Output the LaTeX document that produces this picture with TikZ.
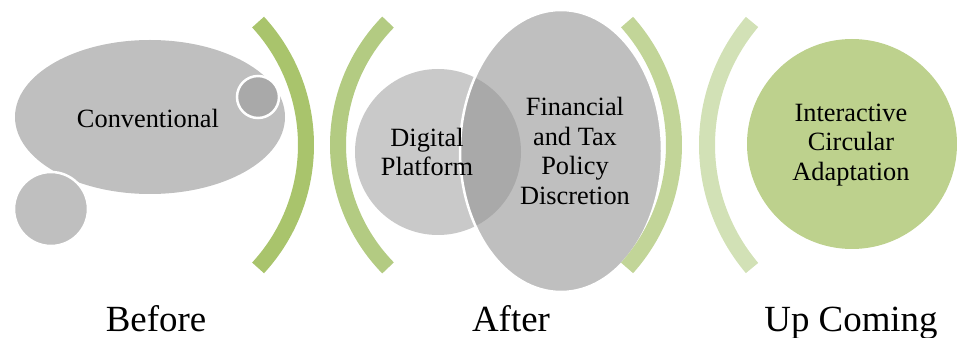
\documentclass[tikz,border=0pt]{standalone}
\usepackage{fontspec}
\setmainfont{Liberation Serif}
\usepackage{tikz}
\newcommand{\pixsize}{0.02cm}
\newcommand{\bracketwidth}{0.32cm}
\definecolor{arcone}{HTML}{A9C46C}
\definecolor{arctwo}{HTML}{B3CB82}
\definecolor{arcthree}{HTML}{C2D598}
\definecolor{arcfour}{HTML}{D2E1B6}
\definecolor{leafgreen}{HTML}{BDD18D}
\definecolor{shapegray}{HTML}{BFBFBF}
\definecolor{lightgray}{HTML}{C9C9C9}
\definecolor{darkgray}{HTML}{A9A9A9}
\newcommand{\makebracket}[5]{
	\draw[#5, line width=\bracketwidth] (#1) ++(#2:#4) arc (#2:#3:#4);
}

\begin{document}
\begin{tikzpicture}[x=\pixsize,y=\pixsize]
	\tikzset{
		inner/.style={align=center, font=\fontsize{15}{17}\selectfont, inner sep=0pt},
		stage/.style={font=\fontsize{21}{24}\selectfont, inner sep=0pt, anchor=base},
		rim/.style={draw=white, line width=0.05cm}
	}
	\useasboundingbox (0,0) rectangle (957,338);
	\coordinate (convmid) at (150,221);
	\coordinate (topdotmid) at (258,241);
	\coordinate (lowdotmid) at (51,129);
	\coordinate (digitalmid) at (438,186);
	\coordinate (financemid) at (561,187);
	\coordinate (interactmid) at (852,194);
	\coordinate (arconemid) at (124.4,193);
	\coordinate (arctwomid) at (514,193);
	\coordinate (arcthreemid) at (489.6,193);
	\coordinate (arcfourmid) at (897.6,193);

	% before
	\fill[shapegray] (convmid) ellipse [x radius=135, y radius=77];
	\fill[darkgray, rim] (topdotmid) circle (21);
	\fill[shapegray, rim] (lowdotmid) circle (37);
	\node[inner] (conv) at (148,220) {Conventional};

	\makebracket{arconemid}{42.6}{-42.6}{181.6}{arcone}
	\makebracket{arctwomid}{135.7}{224.3}{176}{arctwo}

	% after
	\fill[lightgray] (digitalmid) circle (83);
	\fill[shapegray] (financemid) ellipse [x radius=101, y radius=141];
	\begin{scope}
	\clip (digitalmid) circle (83);
	\fill[darkgray] (financemid) ellipse [x radius=101, y radius=141];
	\end{scope}
	\draw[rim] (financemid) ellipse [x radius=101, y radius=141];
	\node[inner] (digital) at (427,186) {Digital\\Platform};
	\node[inner] (finance) at (575,187) {Financial\\and Tax\\Policy\\Discretion};

	\makebracket{arcthreemid}{41.8}{-41.8}{184.4}{arcthree}
	\makebracket{arcfourmid}{139.8}{220.2}{190.6}{arcfour}

	% up coming
	\fill[leafgreen] (interactmid) circle (105);
	\node[inner] (interact) at (851,193) {Interactive\\Circular\\Adaptation};

	\node[stage] (before) at (156,6) {Before};
	\node[stage] (after) at (511,6) {After};
	\node[stage] (upcoming) at (851,6) {Up Coming};
\end{tikzpicture}
\end{document}
